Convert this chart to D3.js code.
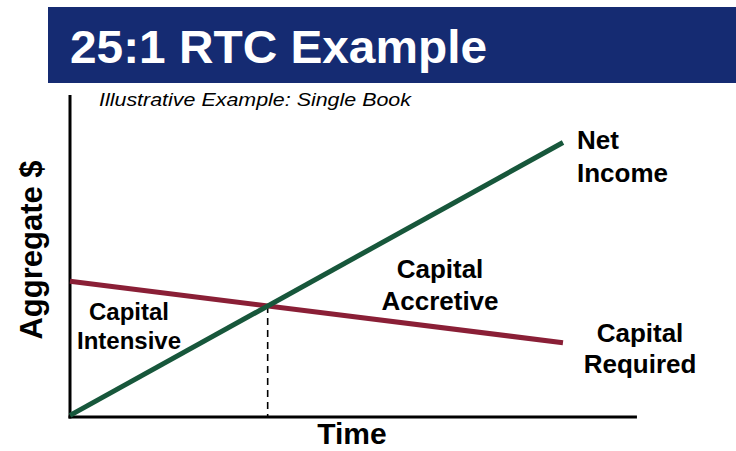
<!DOCTYPE html>
<html>
<head>
<meta charset="utf-8">
<script src="https://cdn.jsdelivr.net/npm/d3@7"></script>
<style>
  body { margin: 0; background: #fff; }
  svg { display: block; font-family: "Liberation Sans", Arial, sans-serif; }
</style>
</head>
<body>
<script>
// chart values (illustrative)
let time = [0, 10]
let netIncome = [0.5, 85]
let capitalRequired = [42, 23]
let timeMax = 11.5

let width = 736, height = 451
let navy = '#152b72'
let green = '#17573b'
let maroon = '#8a1f36'

let svg = d3.select('body').append('svg')
  .attr('width', width)
  .attr('height', height)

// header band
svg.append('rect')
  .attr('x', 48).attr('y', 7)
  .attr('width', width - 48).attr('height', 76)
  .attr('fill', navy)

svg.append('text')
  .attr('x', 70).attr('y', 63)
  .attr('fill', '#fff')
  .attr('font-size', 46)
  .attr('font-weight', 'bold')
  .attr('textLength', 417)
  .attr('lengthAdjust', 'spacingAndGlyphs')
  .text('25:1 RTC Example')

svg.append('text')
  .attr('x', 99).attr('y', 106)
  .attr('font-size', 18)
  .attr('font-style', 'italic')
  .attr('textLength', 312)
  .attr('lengthAdjust', 'spacingAndGlyphs')
  .text('Illustrative Example: Single Book')

let x = d3.scaleLinear().domain([0, 10]).range([70, 563])
let y = d3.scaleLinear().domain([0, 100]).range([417, 94])

// axes (plain lines, no ticks)
svg.append('line')
  .attr('x1', x(0)).attr('x2', x(0))
  .attr('y1', y(0) + 1.5).attr('y2', 95)
  .attr('stroke', '#000').attr('stroke-width', 3)

svg.append('line')
  .attr('x1', x(0) - 1.5).attr('x2', x(timeMax))
  .attr('y1', y(0)).attr('y2', y(0))
  .attr('stroke', '#000').attr('stroke-width', 3)

// breakeven point where the two lines cross
let slopeNI = (netIncome[1] - netIncome[0]) / (time[1] - time[0])
let slopeCR = (capitalRequired[1] - capitalRequired[0]) / (time[1] - time[0])
let tCross = (capitalRequired[0] - netIncome[0]) / (slopeNI - slopeCR)
let vCross = netIncome[0] + slopeNI * tCross

svg.append('line')
  .attr('x1', x(tCross)).attr('x2', x(tCross))
  .attr('y1', y(vCross)).attr('y2', y(0))
  .attr('stroke', '#000')
  .attr('stroke-width', 1.6)
  .attr('stroke-dasharray', '7,5')

let line = d3.line()
  .x(d => x(d[0]))
  .y(d => y(d[1]))

svg.append('path')
  .attr('d', line(d3.zip(time, capitalRequired)))
  .attr('fill', 'none')
  .attr('stroke', maroon)
  .attr('stroke-width', 5)

svg.append('path')
  .attr('d', line(d3.zip(time, netIncome)))
  .attr('fill', 'none')
  .attr('stroke', green)
  .attr('stroke-width', 5)

// labels
let label = (lines, lx, ly, size, anchor, gap) => {
  lines.forEach((t, i) => {
    svg.append('text')
      .attr('x', lx).attr('y', ly + i * gap)
      .attr('font-size', size)
      .attr('font-weight', 'bold')
      .attr('text-anchor', anchor)
      .text(t)
  })
}

label(['Net', 'Income'], 577, 149, 26, 'start', 33)
label(['Capital', 'Required'], 640, 342, 26, 'middle', 31)
label(['Capital', 'Accretive'], 440, 278, 26, 'middle', 32)
label(['Capital', 'Intensive'], 129, 320, 24, 'middle', 29)

svg.append('text')
  .attr('x', 352).attr('y', 444)
  .attr('font-size', 30)
  .attr('font-weight', 'bold')
  .attr('text-anchor', 'middle')
  .text('Time')

svg.append('text')
  .attr('transform', 'translate(42,250) rotate(-90)')
  .attr('font-size', 31)
  .attr('font-weight', 'bold')
  .attr('text-anchor', 'middle')
  .text('Aggregate $')
</script>
</body>
</html>
